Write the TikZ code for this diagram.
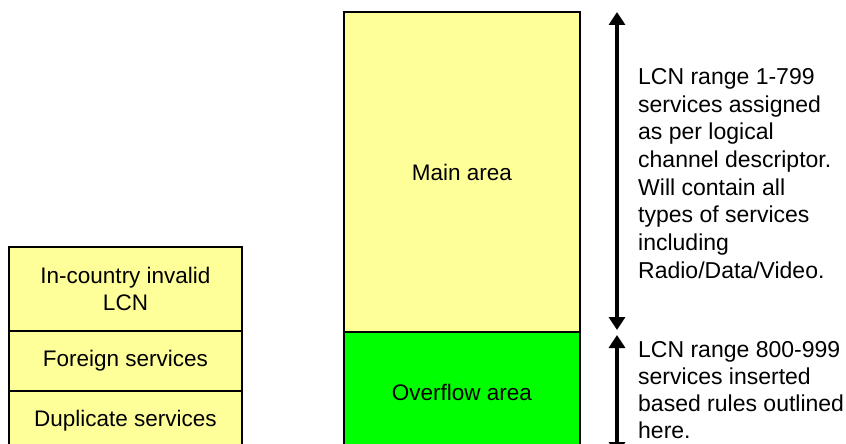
\documentclass[tikz,border=0pt]{standalone}
\usepackage{fontspec}
\setmainfont{Liberation Sans}
\usetikzlibrary{arrows.meta}
\definecolor{paleyellow}{HTML}{FFFF99}
\definecolor{brightgreen}{HTML}{00FF00}
\begin{document}
\begin{tikzpicture}[x=1pt,y=-1pt,
  area/.style={draw=black,line width=2pt,fill=paleyellow,inner sep=0pt,align=center,
    font=\fontsize{22.5}{27.5}\selectfont},
  span/.style={line width=4pt,{Triangle[width=16pt,length=13pt]}-{Triangle[width=16pt,length=13pt]}},
  note/.style={anchor=west,align=left,inner sep=0pt,font=\fontsize{23}{27.2}\selectfont}]
\useasboundingbox (0,0) rectangle (846,444);
\clip (0,0) rectangle (846,444);
% main column
\node[area,minimum width=236,minimum height=320] (main) at (462,172) {Main area};
\node[area,fill=brightgreen,minimum width=236,minimum height=128] (over) at (462,396) {};
\node[font=\fontsize{22.5}{27.5}\selectfont,inner sep=0pt] (overlbl) at (462,392) {Overflow area};
% left column
\node[area,minimum width=233,minimum height=84] (inv) at (125.5,289) {In-country invalid\\LCN};
\node[area,minimum width=233,minimum height=60] (for) at (125.5,361) {Foreign services};
\node[area,minimum width=233,minimum height=69] (dup) at (125.5,425.5) {};
\node[font=\fontsize{22.5}{27.5}\selectfont,inner sep=0pt] (duplbl) at (125.5,421) {Duplicate services};
% arrows
\coordinate (a1t) at (617,12);
\coordinate (a1b) at (617,330);
\coordinate (a2t) at (617,335);
\coordinate (a2b) at (617,455);
\draw[span] (a1t) -- (a1b);
\draw[span] (a2t) -- (a2b);
% notes
\node[note,font=\fontsize{23}{27.7}\selectfont] (n1) at (638,173.5) {LCN range 1-799\\services assigned\\as per logical\\channel descriptor.\\Will contain all\\types of services\\including\\Radio/Data/Video.};
\node[note] (n2) at (638,390) {LCN range 800-999\\services inserted\\based rules outlined\\here.};
\end{tikzpicture}
\end{document}
